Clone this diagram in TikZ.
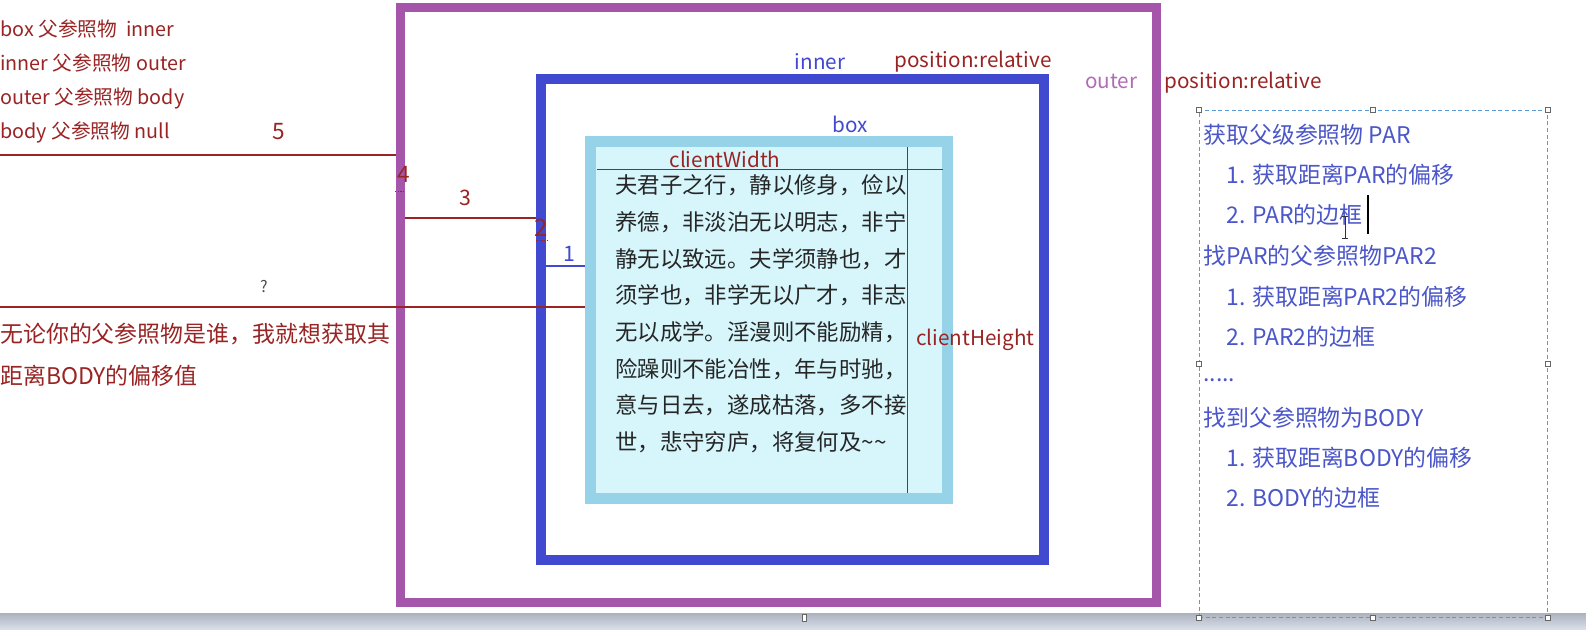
\documentclass[tikz,border=0pt]{standalone}
\usepackage{fontspec}
\setmainfont{Noto Sans CJK SC}
\usepackage{tikz}
\usetikzlibrary{positioning, calc}
\definecolor{outerpurple}{HTML}{A656AA}
\definecolor{innerblue}{HTML}{4049CF}
\definecolor{boxedge}{HTML}{96D3E8}
\definecolor{boxfill}{HTML}{D6F6FC}
\definecolor{darkred}{HTML}{9A2424}
\definecolor{textblue}{HTML}{4A56C9}
\definecolor{labelpurple}{HTML}{B06CB6}
\definecolor{panelblue}{HTML}{5B9BD5}
\definecolor{striptop}{HTML}{AEB5C1}
\definecolor{stripbottom}{HTML}{DCE2EC}

\begin{document}
\begin{tikzpicture}[x=0.75pt, y=-0.75pt,
    frame/.style={rectangle, inner sep=0pt},
    dimline/.style={draw=darkred, line width=0.9pt},
    tick/.style={draw=darkred, line width=0.75pt, dash pattern=on 1pt off 1pt},
    numlabel/.style={text=darkred, inner sep=0pt, font=\fontsize{16}{18}\selectfont},
    tag/.style={inner sep=0pt, font=\fontsize{15.5}{18}\selectfont},
    note/.style={text=darkred, align=left, anchor=west, inner sep=0pt},
    item/.style={text=textblue, anchor=west, inner sep=0pt, font=\fontsize{17.2}{20}\selectfont},
    handle/.style={rectangle, draw=black!60, fill=white, line width=0.5pt, minimum size=3.6pt, inner sep=0pt}]

    \useasboundingbox (0,0) rectangle (1586,630);
    \fill[white] (0,0) rectangle (1586,630);
    \shade[top color=striptop, bottom color=stripbottom] (0,614) rectangle (1586,630);

    % nested frames
    \node[frame, draw=outerpurple, line width=6.75pt, minimum width=567pt, minimum height=446.25pt] (outer) at (778.5,305) {};
    \node[frame, draw=innerblue, line width=7.5pt, minimum width=377.25pt, minimum height=360.75pt] (inner) at (792.5,319.5) {};
    \node[frame, draw=boxedge, fill=boxfill, line width=8.6pt, minimum width=267.4pt, minimum height=267.4pt] (box) at (769,320) {};

    % offset lines
    \coordinate (d5) at (0,155);
    \coordinate (d3) at (405,218);
    \coordinate (d1) at (546,266);
    \coordinate (dq) at (0,307);
    \draw[dimline] (d5) -- (d5 -| outer.west);
    \draw[dimline] (d3) -- (d3 -| inner.west);
    \draw[dimline, draw=innerblue] (d1) -- (d1 -| box.west);
    \draw[dimline] (dq) -- (dq -| box.west);

    \coordinate (t4a) at (395,192);
    \coordinate (t4b) at (405,192);
    \coordinate (t2a) at (536,241);
    \coordinate (t2b) at (547,241);
    \draw[tick] (t4a) -- (t4b);
    \draw[tick] (t2a) -- (t2b);

    \node[numlabel, font=\fontsize{17}{18}\selectfont] (n5) at (279,132) {5};
    \node[numlabel, font=\fontsize{17}{18}\selectfont] (n4) at (404,174) {4};
    \node[numlabel] (n3) at (465,198) {3};
    \node[numlabel, font=\fontsize{18}{18}\selectfont] (n2) at (541,228) {2};
    \node[numlabel, text=innerblue] (n1) at (569,254) {1};
    \node[numlabel, text=black!70, font=\fontsize{12}{14}\selectfont] (nq) at (264,287) {?};

    % client size
    \coordinate (cwa) at (597,170);
    \coordinate (cwb) at (943,170);
    \coordinate (cha) at (907,147);
    \coordinate (chb) at (907,493);
    \draw[dimline, line width=0.75pt] (cwa) -- (cwb);
    \draw[dimline, line width=0.75pt] (cha) -- (chb);
    \node[tag, text=darkred] (cwidth) at (725,159) {clientWidth};
    \node[tag, text=darkred, anchor=west] (cheight) at (916,340) {clientHeight};

    \node[anchor=west, inner sep=0pt, align=left, text=black!85, font=\fontsize{16.8}{27.5}\selectfont] (essay) at (615,314)
        {夫君子之行，静以修身，俭以\\养德，非淡泊无以明志，非宁\\静无以致远。夫学须静也，才\\须学也，非学无以广才，非志\\无以成学。淫漫则不能励精，\\险躁则不能冶性，年与时驰，\\意与日去，遂成枯落，多不接\\世，悲守穷庐，将复何及\textasciitilde\textasciitilde};

    % frame labels
    \node[tag, text=innerblue] (innertag) at (820,62) {inner};
    \node[tag, text=darkred] (innerpos) at (973,62) {position:relative};
    \node[tag, text=innerblue] (boxtag) at (850,124) {box};
    \node[tag, text=labelpurple] (outertag) at (1111,81) {outer};
    \node[tag, text=darkred] (outerpos) at (1243,83) {position:relative};

    % notes on the left
    \node[note, font=\fontsize{14.8}{25.5}\selectfont] (chain) at (0,81)
        {box 父参照物\ \ inner\\inner 父参照物 outer\\outer 父参照物 body\\body 父参照物 null};
    \node[note, font=\fontsize{17.2}{31.5}\selectfont] (goal) at (0,355)
        {无论你的父参照物是谁，我就想获取其\\距离BODY的偏移值};

    % selected text box on the right
    \node[frame, draw=panelblue, line width=0.75pt, dash pattern=on 3pt off 2pt, minimum width=261pt, minimum height=380.6pt] (panel) at (1373,363.75) {};
    \node[item] (s1) at (1203,135) {获取父级参照物 PAR};
    \node[item] (s1a) at (1226,175) {1. 获取距离PAR的偏移};
    \node[item] (s1b) at (1226,215) {2. PAR的边框};
    \node[item] (s2) at (1203,256) {找PAR的父参照物PAR2};
    \node[item] (s2a) at (1226,297) {1. 获取距离PAR2的偏移};
    \node[item] (s2b) at (1226,337) {2. PAR2的边框};
    \node[item] (dots) at (1203,380) {.....};
    \node[item] (s3) at (1203,418) {找到父参照物为BODY};
    \node[item] (s3a) at (1226,458) {1. 获取距离BODY的偏移};
    \node[item] (s3b) at (1226,498) {2. BODY的边框};

    % caret and pointer
    \coordinate (carettop) at (1368,195);
    \coordinate (caretbot) at (1368,234);
    \draw[black, line width=0.9pt] (carettop) -- (caretbot);
    \coordinate (beamtop) at (1345,216);
    \coordinate (beambot) at (1345,238);
    \draw[black!80, line width=0.6pt] (beamtop) -- (beambot)
        ($(beamtop)+(-3,0)$) -- ($(beamtop)+(3,0)$)
        ($(beambot)+(-3,0)$) -- ($(beambot)+(3,0)$);

    \foreach \a in {north west, north, north east, west, east, south west, south, south east}
        \node[handle] at (panel.\a) {};
    \node[handle, minimum width=3pt, minimum height=5pt] (slidehandle) at (804,618) {};

\end{tikzpicture}
\end{document}
